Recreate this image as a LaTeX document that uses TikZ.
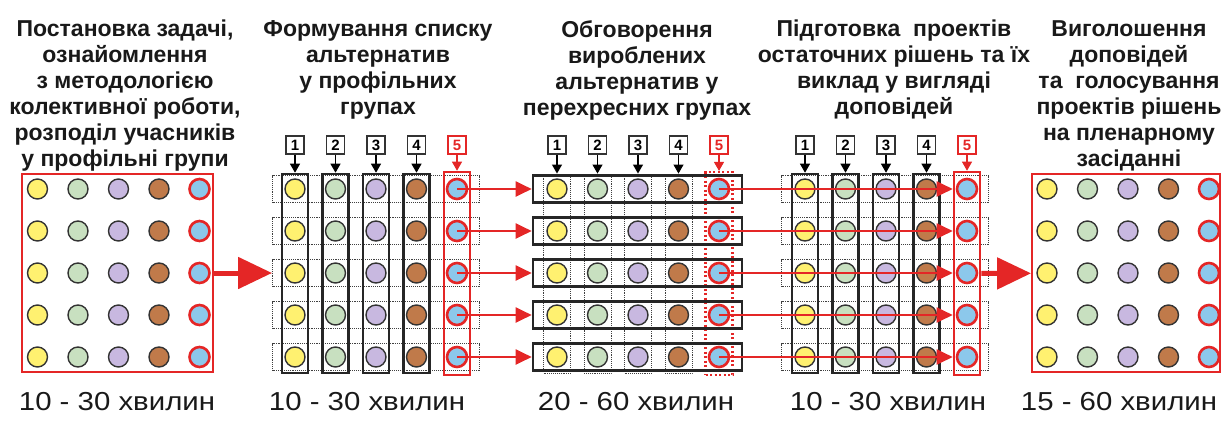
\documentclass[tikz,border=0pt]{standalone}
\usepackage{fontspec}
\setmainfont{Liberation Sans}
\newfontfamily\timefont[FakeStretch=1.13]{Liberation Sans}
\usetikzlibrary{arrows.meta,positioning}
\definecolor{myred}{RGB}{228,38,38}
\definecolor{cyellow}{RGB}{255,241,112}
\definecolor{cgreen}{RGB}{200,224,192}
\definecolor{cviolet}{RGB}{200,184,224}
\definecolor{cbrown}{RGB}{192,122,74}
\definecolor{cblue}{RGB}{140,200,235}

\begin{document}
\begin{tikzpicture}[x=1pt,y=-1pt,
    dot/.style={circle,draw=black!80,line width=1.4pt,minimum size=20pt,inner sep=0pt},
    bdot/.style={dot,fill=cblue,draw=myred,line width=2.6pt},
    panel/.style={draw=myred,line width=1.8pt,minimum width=191pt,minimum height=198pt,inner sep=0pt},
    rowdots/.style={draw=black!75,densely dotted,line width=0.9pt,minimum width=207pt,minimum height=27pt,inner sep=0pt},
    rowbox/.style={draw=black!85,line width=2.6pt,minimum width=209pt,minimum height=27pt,inner sep=0pt},
    colbox/.style={draw=black!85,line width=2.6pt,minimum width=26pt,minimum height=199pt,inner sep=0pt},
    coldots/.style={draw=black!75,densely dotted,line width=0.9pt,minimum width=27pt,minimum height=199pt,inner sep=0pt},
    numbox/.style={draw=black!80,line width=1.1pt,minimum size=18pt,inner sep=0pt,font=\bfseries\fontsize{15}{15}\selectfont},
    numarrow/.style={line width=1.1pt,-{Triangle[length=9pt,width=10pt]}},
    redarrow/.style={myred,line width=2pt,-{Triangle[length=16pt,width=15pt]}},
    bigarrow/.style={myred,line width=5pt,-{Triangle[length=34pt,width=31pt]}},
    title/.style={anchor=north,align=center,inner sep=0pt,text=black!90,font=\bfseries\fontsize{23}{26}\selectfont},
    time/.style={anchor=base,inner sep=0pt,text=black!90,font=\timefont\fontsize{26}{30}\selectfont}]
  \useasboundingbox (0,0) rectangle (1224,421);

  % titles
  \node[title] (t1) at (125,20) {Постановка задачі,\\ознайомлення\\з методологією\\колективної роботи,\\розподіл учасників\\у профільні групи};
  \node[title] (t2) at (378,20) {Формування списку\\альтернатив\\у профільних\\групах};
  \node[title] (t3) at (637,20) {Обговорення\\вироблених\\альтернатив у\\перехресних групах};
  \node[title] (t4) at (894,20) {Підготовка\ \ проектів\\остаточних рішень та їх\\виклад у вигляді\\доповідей};
  \node[title] (t5) at (1129,20) {Виголошення\\доповідей\\та\ \ голосування\\проектів рішень\\на пленарному\\засіданні};

  % stage 1: all participants
  \node[panel] (p1) at (117.5,273) {};
  \foreach \r in {1,...,5}{
    \foreach \c/\clr in {1/cyellow,2/cgreen,3/cviolet,4/cbrown}
      \node[dot,fill=\clr] (a\r\c) at ({37.5+40.5*(\c-1)},{189+42*(\r-1)}) {};
    \node[bdot] (a\r5) at (199.5,{189+42*(\r-1)}) {};
  }

  % stage 2: profile groups (columns)
  \foreach \r in {1,...,5}
    \node[rowdots] (b\r) at (376,{189+42*(\r-1)}) {};
  \foreach \c in {1,...,4}{
    \node[colbox] (bc\c) at ({295+40.5*(\c-1)},273.5) {};
    \node[numbox] (bn\c) at ({295+40.5*(\c-1)},145) {\c};
    \draw[numarrow] (bn\c) -- (bc\c);
  }
  \node[colbox,draw=myred,minimum height=203pt] (bc5) at (457,273.5) {};
  \node[numbox,draw=myred,text=myred] (bn5) at (457,145) {5};
  \draw[numarrow,myred] (bn5) -- (bc5);
  \foreach \r in {1,...,5}{
    \foreach \c/\clr in {1/cyellow,2/cgreen,3/cviolet,4/cbrown}
      \node[dot,fill=\clr] (b\r\c) at ({295+40.5*(\c-1)},{189+42*(\r-1)}) {};
    \node[bdot] (b\r5) at (457,{189+42*(\r-1)}) {};
  }

  % stage 3: cross groups (rows)
  \foreach \c in {1,...,4}{
    \node[coldots] (cc\c) at ({557+40.5*(\c-1)},273.5) {};
    \node[numbox] (cn\c) at ({557+40.5*(\c-1)},145) {\c};
    \draw[numarrow] (cn\c) -- (cc\c);
  }
  \node[coldots,draw=myred,solid,dash pattern=on 2pt off 2.5pt,line width=2.2pt,minimum height=203pt] (cc5) at (719,273.5) {};
  \node[numbox,draw=myred,text=myred] (cn5) at (719,145) {5};
  \draw[numarrow,myred] (cn5) -- (cc5);
  \foreach \r in {1,...,5}{
    \node[rowbox] (c\r) at (637.5,{189+42*(\r-1)}) {};
    \foreach \c/\clr in {1/cyellow,2/cgreen,3/cviolet,4/cbrown}
      \node[dot,fill=\clr] (c\r\c) at ({557+40.5*(\c-1)},{189+42*(\r-1)}) {};
    \node[bdot] (c\r5) at (719,{189+42*(\r-1)}) {};
  }

  % stage 4: profile groups again
  \foreach \r in {1,...,5}
    \node[rowdots] (d\r) at (885,{189+42*(\r-1)}) {};
  \foreach \c in {1,...,4}{
    \node[colbox] (dc\c) at ({805+40.5*(\c-1)},273.5) {};
    \node[numbox] (dn\c) at ({805+40.5*(\c-1)},145) {\c};
    \draw[numarrow] (dn\c) -- (dc\c);
  }
  \node[colbox,draw=myred,minimum height=203pt] (dc5) at (967,273.5) {};
  \node[numbox,draw=myred,text=myred] (dn5) at (967,145) {5};
  \draw[numarrow,myred] (dn5) -- (dc5);
  \foreach \r in {1,...,5}{
    \foreach \c/\clr in {1/cyellow,2/cgreen,3/cviolet,4/cbrown}
      \node[dot,fill=\clr] (d\r\c) at ({805+40.5*(\c-1)},{189+42*(\r-1)}) {};
    \node[bdot] (d\r5) at (967,{189+42*(\r-1)}) {};
  }

  % stage 5: plenary session
  \node[panel,minimum width=188pt] (p5) at (1126,273) {};
  \foreach \r in {1,...,5}{
    \foreach \c/\clr in {1/cyellow,2/cgreen,3/cviolet,4/cbrown}
      \node[dot,fill=\clr] (e\r\c) at ({1047+40.5*(\c-1)},{189+42*(\r-1)}) {};
    \node[bdot] (e\r5) at (1209,{189+42*(\r-1)}) {};
  }

  % transitions
  \draw[bigarrow] (p1) -- (b3);
  \foreach \r in {1,...,5}{
    \draw[redarrow] (b\r5.center) -- (c\r);
    \draw[redarrow,shorten >=3pt] (c\r5.center) -- (d\r5);
  }
  \draw[bigarrow] (dc5) -- (p5);

  % durations
  \node[time] (m1) at (117,410) {10 - 30 хвилин};
  \node[time] (m2) at (367,410) {10 - 30 хвилин};
  \node[time] (m3) at (636,410) {20 - 60 хвилин};
  \node[time] (m4) at (888,410) {10 - 30 хвилин};
  \node[time] (m5) at (1119,410) {15 - 60 хвилин};
\end{tikzpicture}
\end{document}
